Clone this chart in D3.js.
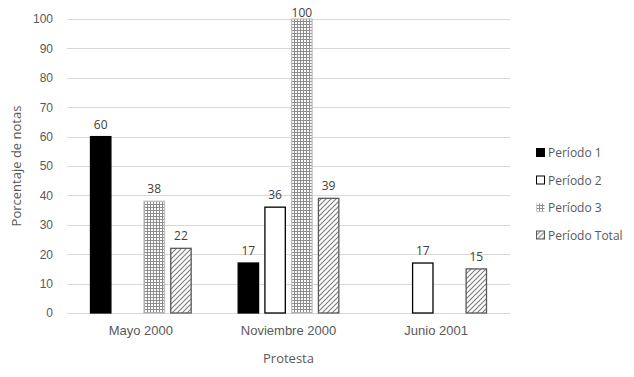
<!DOCTYPE html>
<html>
<head>
<meta charset="utf-8">
<script src="https://cdn.jsdelivr.net/npm/d3@7"></script>
<style>
  body { margin: 0; background: #fff; }
  svg { display: block; font-family: "Open Sans", "Noto Sans", sans-serif; }
  .tick text { fill: #595959; font-size: 12px; }
  .val { fill: #404040; font-size: 12px; }
  .axis-title { fill: #595959; font-size: 13px; }
  .leg { fill: #595959; font-size: 12px; }
</style>
</head>
<body>
<svg id="chart" width="634" height="377"></svg>
<script>
// data
const categories = ["Mayo 2000", "Noviembre 2000", "Junio 2001"];
const seriesNames = ["Período 1", "Período 2", "Período 3", "Período Total"];
const periodo1 = [60, 17, null];
const periodo2 = [null, 36, 17];
const periodo3 = [38, 100, null];
const periodoTotal = [22, 39, 15];
const yTicks = [0, 10, 20, 30, 40, 50, 60, 70, 80, 90, 100];

const seriesValues = [periodo1, periodo2, periodo3, periodoTotal];

const svg = d3.select("#chart");
const plotL = 67, plotR = 510, plotT = 19, plotB = 313;

const defs = svg.append("defs");
// grid pattern for Período 3
const grid = defs.append("pattern").attr("id", "gridPat")
  .attr("patternUnits", "userSpaceOnUse").attr("width", 3).attr("height", 3);
grid.append("rect").attr("width", 3).attr("height", 3).attr("fill", "#fff");
grid.append("path").attr("d", "M0,0.5H3M0.5,0V3")
  .attr("stroke", "#8c8c8c").attr("stroke-width", 1);
// diagonal hatch for Período Total
const hatch = defs.append("pattern").attr("id", "hatchPat")
  .attr("patternUnits", "userSpaceOnUse").attr("width", 5).attr("height", 5);
hatch.append("rect").attr("width", 5).attr("height", 5).attr("fill", "#fff");
hatch.append("path").attr("d", "M-1,6L6,-1M-1,1L1,-1M4,6L6,4")
  .attr("stroke", "#7f7f7f").attr("stroke-width", 1.2);

const fills = ["#000", "#fff", "url(#gridPat)", "url(#hatchPat)"];
const strokes = ["#000", "#000", "#bfbfbf", "#595959"];
const legendStrokes = ["#000", "#000", "none", "#595959"];

const y = d3.scaleLinear().domain([0, 100]).range([plotB, plotT]);
const x0 = d3.scaleBand().domain(categories).range([plotL, plotR]);
const x1 = d3.scaleBand().domain(seriesNames)
  .range([23, x0.bandwidth() - 23]).paddingInner(0.2);

// gridlines
svg.append("g").selectAll("line").data(yTicks).join("line")
  .attr("x1", plotL).attr("x2", plotR)
  .attr("y1", d => Math.round(y(d)) + 0.5).attr("y2", d => Math.round(y(d)) + 0.5)
  .attr("stroke", "#d9d9d9").attr("stroke-width", 1);

// y axis labels
const yAxis = svg.append("g").attr("transform", `translate(${plotL},0)`)
  .call(d3.axisLeft(y).tickValues(yTicks).tickSize(0).tickPadding(14));
yAxis.select(".domain").remove();

// x axis labels
const xAxis = svg.append("g").attr("transform", `translate(0,${plotB})`)
  .call(d3.axisBottom(x0).tickSize(0).tickPadding(13));
xAxis.select(".domain").remove();
xAxis.selectAll(".tick text").style("font-size", "13px");

// bars
const groups = svg.append("g").selectAll("g").data(seriesNames).join("g");
groups.each(function (name, si) {
  const data = categories.map((c, ci) => ({ c, v: seriesValues[si][ci] }))
    .filter(d => d.v !== null);
  const g = d3.select(this);
  g.selectAll("rect").data(data).join("rect")
    .attr("x", d => x0(d.c) + x1(name) + 0.5)
    .attr("y", d => y(d.v))
    .attr("width", x1.bandwidth() - 1)
    .attr("height", d => y(0) - y(d.v))
    .attr("fill", fills[si])
    .attr("stroke", strokes[si])
    .attr("stroke-width", 1.3);
  // labels sit above the bar; the tallest one is pushed down to stay on the page
  g.selectAll("text").data(data).join("text")
    .attr("class", "val")
    .attr("x", d => x0(d.c) + x1(name) + x1.bandwidth() / 2)
    .attr("y", d => Math.max(y(d.v) - 8, 17))
    .attr("text-anchor", "middle")
    .text(d => d.v);
});

// axis titles
svg.append("text").attr("class", "axis-title")
  .attr("transform", "rotate(-90)")
  .attr("x", -(plotT + plotB) / 2).attr("y", 21)
  .attr("text-anchor", "middle").text("Porcentaje de notas");
svg.append("text").attr("class", "axis-title")
  .attr("x", (plotL + plotR) / 2).attr("y", 363)
  .attr("text-anchor", "middle").text("Protesta");

// legend
const legend = svg.append("g").attr("transform", "translate(536,153)");
const rows = legend.selectAll("g").data(seriesNames).join("g")
  .attr("transform", (d, i) => `translate(0,${i * 27.5})`);
rows.append("rect")
  .attr("x", 0.5).attr("y", -4.5).attr("width", 8).attr("height", 8)
  .attr("fill", (d, i) => fills[i])
  .attr("stroke", (d, i) => legendStrokes[i]).attr("stroke-width", 1);
rows.append("text").attr("class", "leg")
  .attr("x", 12).attr("y", 0).attr("dy", "0.35em")
  .text(d => d);
</script>
</body>
</html>
